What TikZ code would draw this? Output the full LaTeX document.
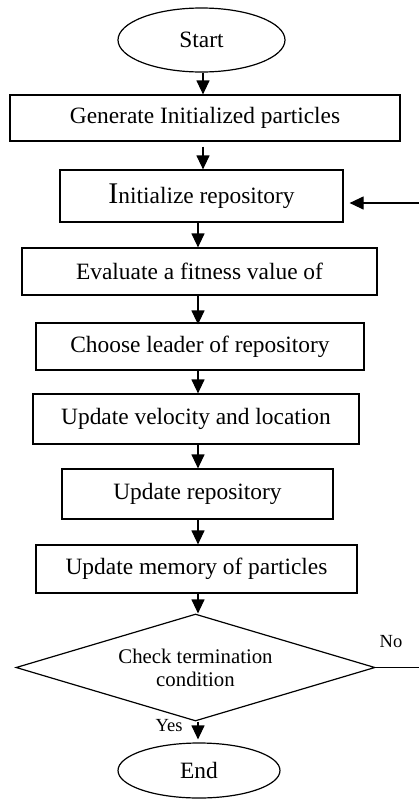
\documentclass[tikz,border=0pt]{standalone}
\usepackage{fontspec}
\setmainfont{Liberation Serif}
\usetikzlibrary{arrows.meta,shapes.geometric}
\begin{document}
\begin{tikzpicture}[x=1pt,y=-1pt,
  every node/.style={inner sep=0pt, line width=1.2pt},
  box/.style={draw, rectangle, font=\fontsize{23.4}{27}\selectfont},
  term/.style={draw, ellipse, font=\fontsize{23.4}{27}\selectfont},
  arr/.style={line width=1.2pt, -{Triangle[length=14pt,width=13pt]}},
  plain/.style={line width=1.2pt},
  lab/.style={font=\fontsize{18.5}{20}\selectfont}]
\useasboundingbox (0,0) rectangle (419,801);
\node[term, minimum width=167pt, minimum height=64pt] (start) at (201.5,40) {Start};
\node[box, minimum width=390pt, minimum height=46pt] (gen) at (205,118) {Generate Initialized particles};
\node[box, minimum width=283pt, minimum height=52pt] (init) at (201.5,196) {{\fontsize{30}{30}\selectfont I}nitialize repository};
\node[box, minimum width=355pt, minimum height=47pt] (eval) at (199.5,271.5) {Evaluate a fitness value of};
\node[box, minimum width=328pt, minimum height=47pt] (choose) at (200,346.5) {Choose leader of repository};
\node[box, minimum width=326pt, minimum height=50pt] (vel) at (196,419) {Update velocity and location};
\node[box, minimum width=271pt, minimum height=50pt] (repo) at (197.5,494) {Update repository};
\node[box, minimum width=321pt, minimum height=48pt] (mem) at (196.5,569) {Update memory of particles};
\node[draw, diamond, minimum width=359pt, minimum height=107pt] (check) at (195.5,667.5) {};
\node[align=center, font=\fontsize{20.8}{23}\selectfont] (checktxt) at (check.center) {Check termination\\condition};
\node[term, minimum width=162pt, minimum height=55pt] (end) at (199,770.5) {End};
\node[lab] (yes) at (169,726) {Yes};
\node[lab] (no) at (391,642) {No};
\coordinate (ax) at (198,0);
\coordinate (ax2) at (203,0);
\coordinate (fbin) at (419,203);
\coordinate (noend) at (419,667.5);
\draw[arr] (start.south -| ax2) -- (gen.north -| ax2);
\draw[arr] (gen.south -| ax2) ++(0,5) -- (init.north -| ax2);
\draw[arr] (init.south -| ax) -- (eval.north -| ax);
\draw[arr] (eval.south -| ax) -- ([yshift=-2pt]choose.north -| ax);
\draw[arr] (choose.south -| ax) -- (vel.north -| ax);
\draw[arr] (vel.south -| ax) -- (repo.north -| ax);
\draw[arr] (repo.south -| ax) -- (mem.north -| ax);
\draw[arr] (mem.south -| ax) -- (check.north -| ax);
\draw[arr, shorten >=3pt] (check.south -| ax) -- (end.north -| ax);
\draw[arr, shorten >=6pt] (fbin) -- (fbin -| init.east);
\draw[plain] (check.east) -- (noend);
\end{tikzpicture}
\end{document}
